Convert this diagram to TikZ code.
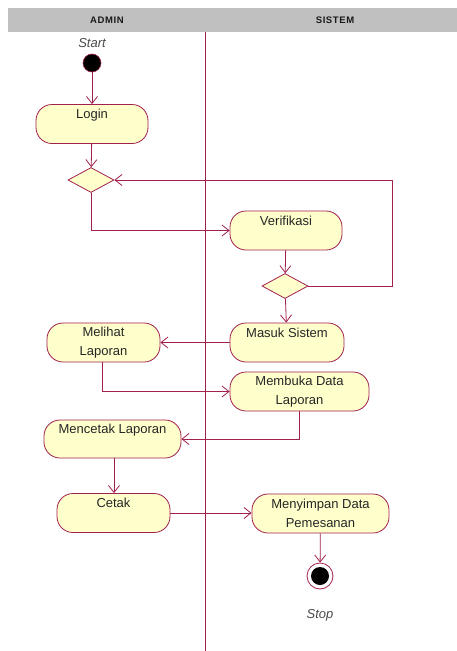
\documentclass[tikz,border=0pt]{standalone}
\usepackage{fontspec}
\setmainfont{Liberation Sans}
\usetikzlibrary{arrows.meta,shapes.geometric}
\definecolor{edge}{HTML}{A0204E}
\definecolor{actfill}{HTML}{FFFFCC}
\definecolor{lanegray}{HTML}{C0C0C0}
\tikzset{
  activity/.style={draw=edge, fill=actfill, line width=0.8pt, rounded corners=16pt,
    minimum height=39pt, inner sep=0pt, align=center,
    font=\fontsize{13}{19.5}\selectfont, text=black!85},
  decision/.style={diamond, draw=edge, fill=actfill, line width=0.8pt, inner sep=0pt,
    minimum width=46pt, minimum height=25pt, aspect=1.8},
  flow/.style={draw=edge, line width=0.8pt, -{Straight Barb[length=7pt,width=11pt]}},
  lanehead/.style={font=\fontsize{9.5}{10}\bfseries\selectfont, text=black!90},
  term/.style={font=\fontsize{13}{14}\itshape\selectfont, text=black!70},
}
% small gap between header letters
\newcommand{\hgap}{\kern0.6pt}
\begin{document}
\begin{tikzpicture}[x=1pt, y=-1pt]
  \useasboundingbox (0,0) rectangle (457,651);
  % swimlane header and divider
  \fill[lanegray] (8,8) rectangle (457,32);
  \node[lanehead] (hAdmin) at (107,20) {A\hgap D\hgap M\hgap I\hgap N};
  \node[lanehead] (hSistem) at (335,20) {S\hgap I\hgap S\hgap T\hgap E\hgap M};
  \draw[edge, line width=0.8pt] (205,32) -- (205,651);

  % start and end states
  \node[term] (startlbl) at (92,43) {Start};
  \node[circle, fill=black, draw=edge, line width=0.6pt, minimum size=18pt, inner sep=0pt] (start) at (92,63) {};
  \node[circle, draw=edge, fill=white, line width=0.8pt, minimum size=26pt, inner sep=0pt] (stop) at (320,576) {};
  \node[circle, fill=black, minimum size=18pt, inner sep=0pt] (stopdot) at (320,576) {};
  \node[term] (stoplbl) at (320,615) {Stop};

  % activities
  \node[activity, minimum width=112pt] (login) at (92,124) {Login\\\mbox{}};
  \node[decision] (d1) at (91,180) {};
  \node[activity, minimum width=112pt] (verif) at (286,230.5) {Verifikasi\\\mbox{}};
  \node[decision] (d2) at (285,286) {};
  \node[activity, minimum width=114pt] (masuk) at (287,342.5) {Masuk Sistem\\\mbox{}};
  \node[activity, minimum width=113pt] (melihat) at (103.5,342.5) {Melihat\\Laporan};
  \node[activity, minimum width=139pt] (membuka) at (299.5,391.5) {Membuka Data\\Laporan};
  \node[activity, minimum width=137pt, minimum height=38pt] (mencetak) at (112.5,439) {Mencetak Laporan\\\mbox{}};
  \node[activity, minimum width=113pt] (cetak) at (113.5,513) {Cetak\\\mbox{}};
  \node[activity, minimum width=137pt] (simpan) at (320.5,513.5) {Menyimpan Data\\Pemesanan};

  % control flow
  \coordinate (loopR) at (392,286);
  \draw[flow] (start) -- (login);
  \draw[flow] (login) -- (d1);
  \draw[flow] (d1.south) |- (verif.west);
  \draw[flow] (verif) -- (d2);
  \draw[flow] (d2.east) -- (loopR) |- (d1.east);
  \draw[flow] (d2) -- (masuk);
  \draw[flow] (masuk.west) -- (melihat.east);
  \draw[flow] ([xshift=-1.5pt]melihat.south) |- (membuka.west);
  \draw[flow] (membuka.south) |- (mencetak.east);
  \draw[flow] ([xshift=1.5pt]mencetak.south) -- ([xshift=0.5pt]cetak.north);
  \draw[flow] (cetak.east) -- (cetak.east -| simpan.west);
  \draw[flow] (simpan) -- (stop);
\end{tikzpicture}
\end{document}
